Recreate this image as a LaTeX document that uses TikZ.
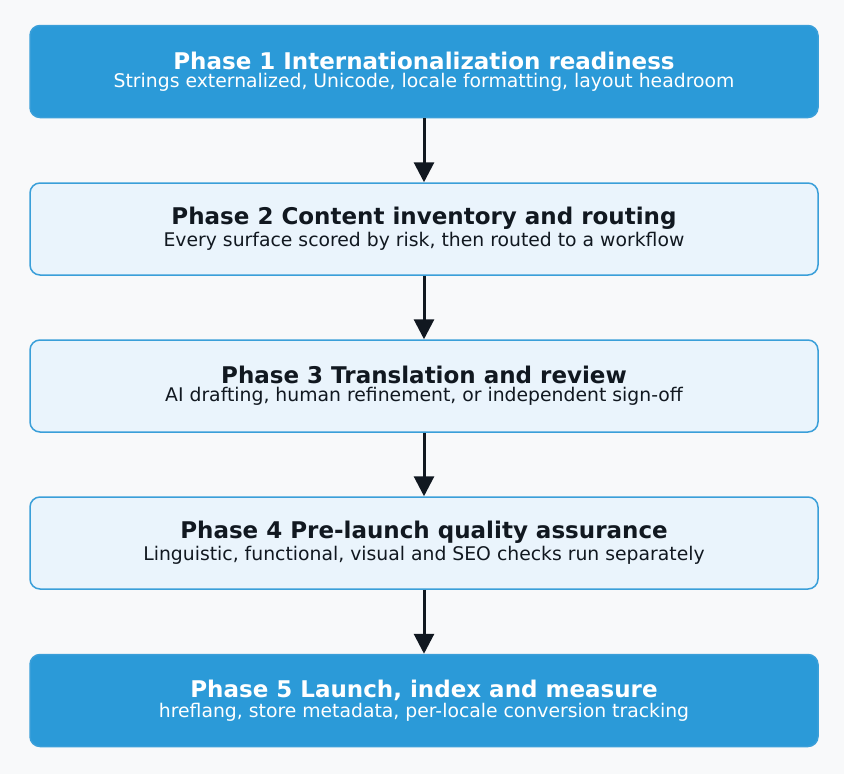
\documentclass[tikz,border=0pt]{standalone}
\usepackage{fontspec}
\setmainfont{DejaVu Sans}
\usetikzlibrary{arrows.meta}
\definecolor{dark}{HTML}{2B9AD8}
\definecolor{light}{HTML}{EAF4FC}
\definecolor{edge}{HTML}{3A9FD9}
\definecolor{bg}{HTML}{F8F9FA}
\definecolor{arr}{HTML}{111820}
\definecolor{txt}{HTML}{111820}
\begin{document}
\begin{tikzpicture}[x=1pt,y=-1pt,
  box/.style={draw=edge,line width=1.5pt,rounded corners=10pt,minimum width=788pt,minimum height=92pt,inner sep=0pt,align=center},
  darkbox/.style={box,fill=dark,text=white},
  lightbox/.style={box,fill=light,text=txt},
  flow/.style={draw=arr,line width=3pt,-{Triangle[width=20pt,length=20pt]}}]
\fill[bg] (0,0) rectangle (844,774);
\useasboundingbox (0,0) rectangle (844,774);
\newcommand{\bx}[2]{{\fontsize{23}{28}\selectfont\bfseries #1}\\[2pt]{\fontsize{18.8}{22}\selectfont #2}}
\node[darkbox] (p1) at (424,71.5) {\bx{Phase 1 Internationalization readiness}{Strings externalized, Unicode, locale formatting, layout headroom}};
\node[lightbox] (p2) at (424,229) {\bx{Phase 2 Content inventory and routing}{Every surface scored by risk, then routed to a workflow}};
\node[lightbox] (p3) at (424,386) {\bx{Phase 3 Translation and review}{AI drafting, human refinement, or independent sign-off}};
\node[lightbox] (p4) at (424,543) {\bx{Phase 4 Pre-launch quality assurance}{Linguistic, functional, visual and SEO checks run separately}};
\node[darkbox] (p5) at (424,700.5) {\bx{Phase 5 Launch, index and measure}{hreflang, store metadata, per-locale conversion tracking}};
\draw[flow] (p1) -- (p2);
\draw[flow] (p2) -- (p3);
\draw[flow] (p3) -- (p4);
\draw[flow] (p4) -- (p5);
\end{tikzpicture}
\end{document}
